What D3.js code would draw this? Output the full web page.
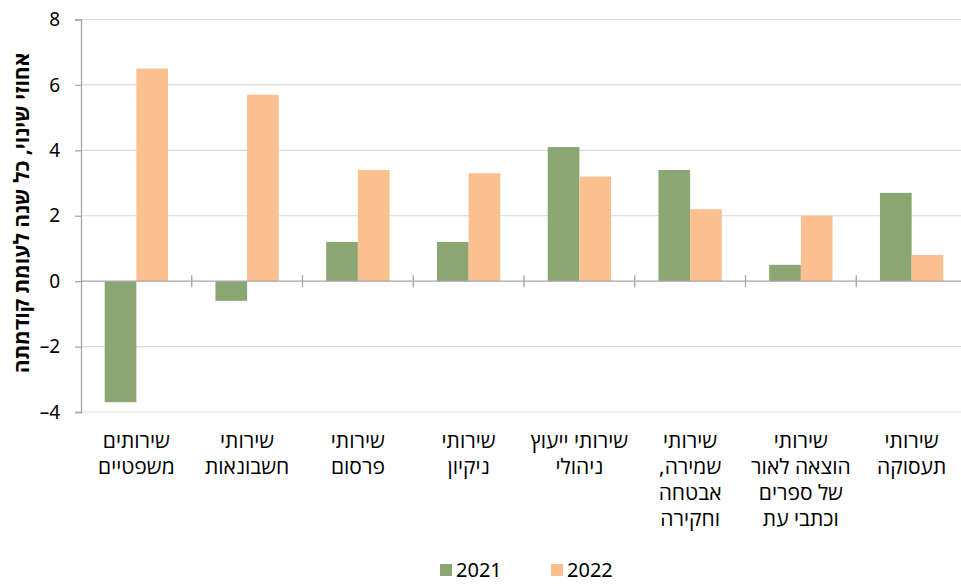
<!DOCTYPE html>
<html><head><meta charset="utf-8">
<script src="https://cdn.jsdelivr.net/npm/d3@7"></script>
<style>body{margin:0;background:#fff}svg{display:block}</style>
</head><body><svg id="c" width="961" height="584"></svg>
<script>
const categories = [
  ["שירותים","משפטיים"],
  ["שירותי","חשבונאות"],
  ["שירותי","פרסום"],
  ["שירותי","ניקיון"],
  ["שירותי ייעוץ","ניהולי"],
  ["שירותי","שמירה,","אבטחה","וחקירה"],
  ["שירותי","הוצאה לאור","של ספרים","וכתבי עת"],
  ["שירותי","תעסוקה"]
];
const series2021 = [-3.7, -0.6, 1.2, 1.2, 4.1, 3.4, 0.5, 2.7];
const series2022 = [6.5, 5.7, 3.4, 3.3, 3.2, 2.2, 2.0, 0.8];
const seriesNames = ["2021","2022"];
const yTicks = [-4,-2,0,2,4,6,8];
const yTitle = "אחוזי שינוי, כל שנה לעומת קודמתה";
const colors = ["#8aa672","#fac090"];
const font = "'Noto Sans','Open Sans','DejaVu Sans',sans-serif";

const svg = d3.select("#c");
const L = 81, R = 967, T = 19.5, B = 412;
const x = d3.scaleBand().domain(d3.range(categories.length)).range([L,R]).padding(0);
const y = d3.scaleLinear().domain([-4,8]).range([B,T]);
const inner = d3.scaleBand().domain([0,1]).range([0, x.bandwidth()*0.572]).padding(0);
const off = (x.bandwidth() - x.bandwidth()*0.572)/2;

// gridlines
svg.append("g").selectAll("line").data(yTicks.filter(d=>d!==0)).join("line")
  .attr("x1",L).attr("x2",R).attr("y1",d=>y(d)).attr("y2",d=>y(d))
  .attr("stroke","#d9d9d9").attr("stroke-width",1.2);

// bars
const data = categories.map((c,i)=>[series2021[i], series2022[i]]);
const g = svg.append("g");
data.forEach((vals,i)=>{
  vals.forEach((v,j)=>{
    g.append("rect")
      .attr("x", x(i)+off+inner(j))
      .attr("width", inner.bandwidth())
      .attr("y", y(Math.max(0,v)))
      .attr("height", Math.abs(y(v)-y(0)))
      .attr("fill", colors[j]);
  });
});

// y axis
const yAxis = d3.axisLeft(y).tickValues(yTicks).tickSize(6)
  .tickFormat(d=> d<0 ? "\u2013"+Math.abs(d) : d);
const ya = svg.append("g").attr("transform",`translate(${L},0)`).call(yAxis);
ya.select(".domain").attr("stroke","#a6a6a6").attr("stroke-width",1.3);
ya.selectAll(".tick line").attr("stroke","#a6a6a6").attr("stroke-width",1.3);
ya.selectAll(".tick text").attr("x",-21).attr("font-size",19).attr("font-family",font).attr("fill","#000");

// x axis at zero
const xa = svg.append("g");
xa.append("line").attr("x1",L).attr("x2",R).attr("y1",y(0)).attr("y2",y(0))
  .attr("stroke","#a6a6a6").attr("stroke-width",1.3);
xa.selectAll("line.t").data(d3.range(1,categories.length+1)).join("line").attr("class","t")
  .attr("x1",d=>x(d-1)+x.bandwidth()).attr("x2",d=>x(d-1)+x.bandwidth())
  .attr("y1",y(0)-6).attr("y2",y(0)+6)
  .attr("stroke","#a6a6a6").attr("stroke-width",1.3);

// category labels
const lab = svg.append("g");
categories.forEach((lines,i)=>{
  const t = lab.append("text").attr("text-anchor","middle").attr("direction","rtl")
    .attr("font-size",21).attr("font-family",font).attr("fill","#000");
  lines.forEach((ln,k)=>{
    t.append("tspan").attr("x", x(i)+x.bandwidth()/2).attr("y", 448 + k*26).text(ln);
  });
});

// y title
svg.append("text").attr("transform","translate(29,213) rotate(-90)")
  .attr("text-anchor","middle").attr("direction","rtl")
  .attr("font-size",21).attr("font-weight","bold").attr("font-family",font)
  .attr("fill","#000").text(yTitle);

// legend
const legX = [440, 551];
seriesNames.forEach((s,j)=>{
  svg.append("rect").attr("x",legX[j]).attr("y",564).attr("width",12).attr("height",12).attr("fill",colors[j]);
  svg.append("text").attr("x",legX[j]+16).attr("y",577).attr("font-size",20)
    .attr("font-family",font).attr("fill","#000").text(s);
});
</script></body></html>
